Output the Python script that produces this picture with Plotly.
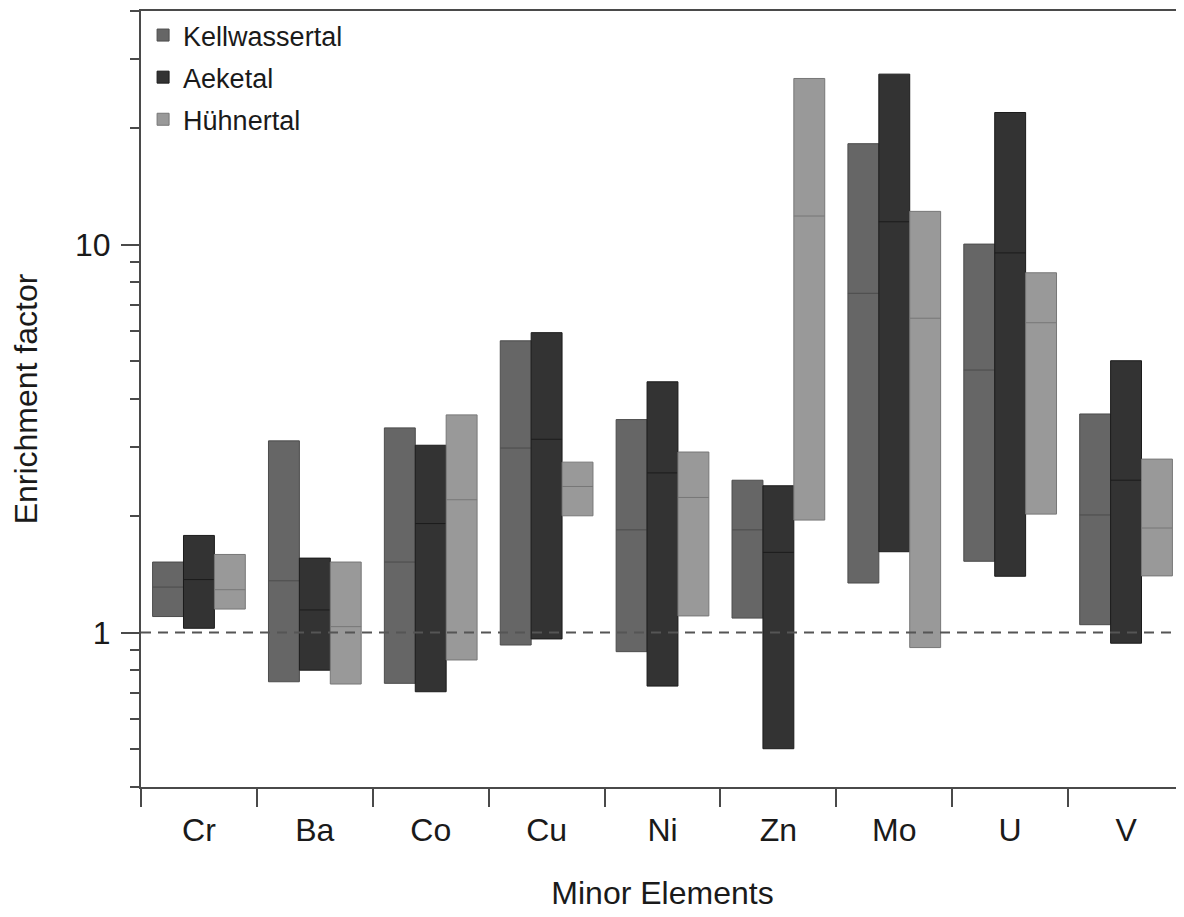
import numpy as np
import plotly.graph_objects as go

elements = ["Cr", "Ba", "Co", "Cu", "Ni", "Zn", "Mo", "U", "V"]

kell_low = [1.10, 0.747, 0.74, 0.929, 0.893, 1.09, 1.342, 1.527, 1.048]
kell_med = [1.31, 1.36, 1.52, 2.99, 1.84, 1.84, 7.49, 4.75, 2.01]
kell_high = [1.52, 3.12, 3.37, 5.65, 3.54, 2.47, 18.2, 10.03, 3.66]

aek_low = [1.026, 0.80, 0.704, 0.963, 0.728, 0.502, 1.616, 1.397, 0.939]
aek_med = [1.37, 1.144, 1.91, 3.15, 2.58, 1.61, 11.45, 9.52, 2.47]
aek_high = [1.78, 1.556, 3.04, 5.93, 4.43, 2.39, 27.5, 21.9, 5.02]

huh_low = [1.15, 0.737, 0.85, 2.00, 1.104, 1.95, 0.915, 2.02, 1.40]
huh_med = [1.29, 1.036, 2.20, 2.38, 2.23, 11.85, 6.46, 6.29, 1.86]
huh_high = [1.59, 1.52, 3.64, 2.75, 2.92, 26.8, 12.18, 8.46, 2.80]

series = [
    ("Kellwassertal", kell_low, kell_med, kell_high, "#666666", "#4c4c4c"),
    ("Aeketal", aek_low, aek_med, aek_high, "#333333", "#1c1c1c"),
    ("Hühnertal", huh_low, huh_med, huh_high, "#999999", "#777777"),
]

reference_level = 1.0
y_min, y_max = 0.4, 40
major_ticks = [1, 10]
minor_ticks = [0.4, 0.5, 0.6, 0.7, 0.8, 0.9, 2, 3, 4, 5, 6, 7, 8, 9, 20, 30, 40]

FONT = "Liberation Sans, Arial, sans-serif"
AXIS_COLOR = "#4a4a4a"

fig = go.Figure()
for name, lo, md, hi, fill, edge in series:
    fig.add_trace(go.Box(
        x=elements, q1=lo, median=md, q3=hi, lowerfence=lo, upperfence=hi,
        name=name, legendgroup=name, fillcolor=fill, line=dict(color=edge, width=1),
        whiskerwidth=0, boxpoints=False, hoverinfo="skip",
    ))

# reference line at y = 1, positioned in paper units along the log axis
log_lo, log_hi = np.log10(y_min), np.log10(y_max)
ref_frac = (np.log10(reference_level) - log_lo) / (log_hi - log_lo)
fig.add_shape(type="line", xref="paper", x0=0, x1=1, yref="paper",
              y0=ref_frac, y1=ref_frac,
              line=dict(color="#555555", width=2, dash="10px,7px"), layer="above")

fig.update_layout(
    width=1176, height=909,
    margin=dict(l=133, r=0, t=3, b=130),
    paper_bgcolor="white", plot_bgcolor="white",
    boxmode="group", boxgap=0.2, boxgroupgap=0,
    font=dict(family=FONT, size=32, color="#1a1a1a"),
    showlegend=True,
    legend=dict(x=0.002, y=1.0, xanchor="left", yanchor="top",
                bgcolor="rgba(0,0,0,0)", font=dict(size=27),
                traceorder="grouped", tracegroupgap=4),
)
fig.update_xaxes(
    type="category", categoryorder="array", categoryarray=elements,
    automargin=False,
    showline=True, linecolor=AXIS_COLOR, linewidth=2, mirror=True,
    ticks="outside", tickson="boundaries", ticklen=18, tickwidth=1.5,
    tickcolor=AXIS_COLOR, ticklabelstandoff=14,
    showgrid=False, zeroline=False,
    title=dict(text="Minor Elements", standoff=34, font=dict(size=32)),
)
fig.update_yaxes(
    type="log", range=[log_lo, log_hi], automargin=False,
    tickmode="array", tickvals=major_ticks, ticktext=[str(v) for v in major_ticks],
    ticks="outside", ticklen=18, tickwidth=1.5, tickcolor=AXIS_COLOR,
    ticklabelstandoff=4,
    minor=dict(tickmode="array", tickvals=minor_ticks, ticks="outside",
               ticklen=9, tickwidth=1.5, tickcolor=AXIS_COLOR, showgrid=False),
    showline=True, linecolor=AXIS_COLOR, linewidth=2, mirror=False,
    showgrid=False, zeroline=False,
    title=dict(text="Enrichment factor", standoff=28, font=dict(size=32)),
)

fig.write_html("out.html")
